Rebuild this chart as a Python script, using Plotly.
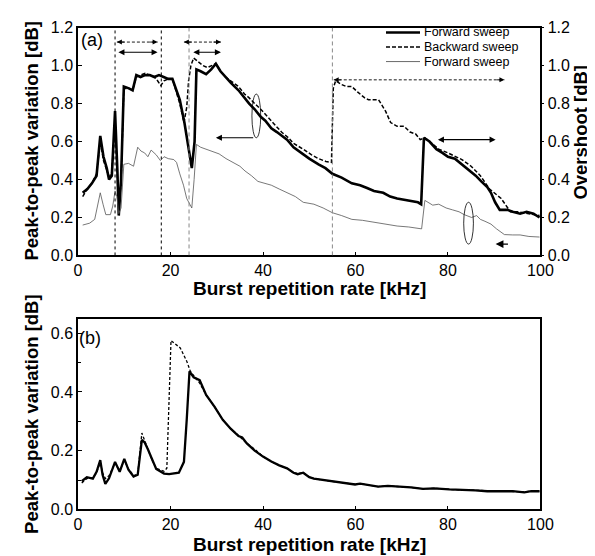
import plotly.graph_objects as go

# ---------------- data (a) ----------------
fwd_x = [1, 2, 3, 4, 4.8, 5.5, 6.2, 6.7, 7.3, 8.0, 8.5, 8.8, 9.3, 9.9, 11, 11.8, 12.6, 13.5, 14.5,
         15.5, 16.5, 17.5, 18.5, 19.5, 20.4, 21.2, 22, 23, 24, 24.6, 25.2, 25.6, 26.5, 27.7, 28.8,
         29.8, 30.8, 31.9, 33, 34.7, 36, 37, 38.2, 39.5, 40.5, 41.8, 43, 44, 45.2, 46.6, 48.7, 50,
         52, 53.5, 55, 57, 59.2, 61, 62.5, 64, 66, 67.5, 69, 71, 72.5, 73.5, 74.2, 74.8, 76, 76.8,
         77.5, 78.8, 80, 81.5, 83, 84.5, 86, 87.2, 88.5, 89.3, 90.2, 91.2, 92.9, 94, 95.6, 97, 98.5, 99.8]
fwd_y = [0.33, 0.35, 0.38, 0.42, 0.63, 0.52, 0.46, 0.40, 0.42, 0.76, 0.45, 0.21, 0.40, 0.89, 0.88,
         0.87, 0.95, 0.94, 0.95, 0.95, 0.94, 0.95, 0.94, 0.93, 0.93, 0.88, 0.82, 0.70, 0.55, 0.46,
         0.60, 0.98, 0.97, 0.955, 0.98, 1.01, 0.97, 0.94, 0.91, 0.87, 0.83, 0.80, 0.77, 0.73, 0.71,
         0.67, 0.65, 0.63, 0.61, 0.57, 0.53, 0.51, 0.48, 0.46, 0.43, 0.41, 0.38, 0.37, 0.355, 0.34,
         0.33, 0.31, 0.30, 0.29, 0.285, 0.28, 0.27, 0.62, 0.60, 0.58, 0.56, 0.54, 0.52, 0.51, 0.48,
         0.45, 0.42, 0.39, 0.36, 0.33, 0.28, 0.24, 0.24, 0.23, 0.22, 0.23, 0.22, 0.20]

bwd_x = [1, 2, 3, 4, 4.8, 5.5, 6.2, 6.7, 7.3, 8.0, 8.5, 8.8, 9.3, 9.9, 11, 11.8, 12.6, 13.5, 14.5,
         15.5, 16.5, 17.2, 17.9, 18.6, 19.5, 20.4, 21.2, 22, 22.9, 23.5, 23.9, 24.4, 25, 26, 27, 28,
         29.8, 30.8, 31.9, 33, 34.7, 36, 37, 38.2, 39.5, 41, 42.5, 44, 45.5, 46.6, 48.7, 50.5, 52,
         53.6, 54.8, 55.2, 55.7, 57, 58, 59.2, 60.5, 62, 62.8, 65, 66.5, 67.6, 69, 70.5, 71.8, 73,
         74, 75, 76, 78, 80, 83, 85, 87, 89, 90.5, 91.5, 92.5, 93.5, 95, 97, 99.8]
bwd_y = [0.31, 0.35, 0.38, 0.43, 0.60, 0.50, 0.45, 0.41, 0.44, 0.70, 0.42, 0.24, 0.38, 0.88, 0.88,
         0.87, 0.94, 0.95, 0.96, 0.95, 0.94, 0.92, 0.895, 0.92, 0.93, 0.93, 0.87, 0.80, 0.70, 0.78,
         0.92, 1.00, 1.04, 1.02, 1.00, 0.99, 1.01, 0.97, 0.94, 0.92, 0.89, 0.85, 0.83, 0.80, 0.77,
         0.73, 0.69, 0.65, 0.62, 0.59, 0.56, 0.53, 0.51, 0.495, 0.49, 0.88, 0.92, 0.90, 0.89, 0.89,
         0.86, 0.83, 0.82, 0.82, 0.76, 0.70, 0.68, 0.68, 0.65, 0.64, 0.61, 0.62, 0.60, 0.56, 0.54,
         0.505, 0.47, 0.42, 0.35, 0.32, 0.30, 0.265, 0.23, 0.23, 0.22, 0.21]

ovs_x = [1, 2.5, 3.6, 4.2, 4.8, 5.4, 6, 7, 7.5, 8, 8.4, 8.8, 9.3, 9.9, 10.9, 12, 12.9, 13.6, 14.4,
         15.1, 15.8, 16.9, 17.8, 18.6, 19.5, 20.7, 21.3, 22, 22.8, 23.5, 24.6, 25.1, 25.6, 26.5,
         27.7, 29, 30.5, 32, 33.4, 35, 36.1, 37.5, 38.9, 40.5, 41.8, 43.5, 45.2, 47, 48.7, 51, 53,
         55, 57, 59.2, 61.5, 64, 66.5, 69, 71.5, 73.7, 74.3, 75, 76.7, 78, 79.6, 81, 82.4, 83.5,
         85.1, 86.2, 87, 88, 89.3, 90.5, 92.2, 94, 95.6, 97.5, 99.8]
ovs_y = [0.16, 0.17, 0.19, 0.26, 0.33, 0.27, 0.215, 0.215, 0.26, 0.34, 0.31, 0.22, 0.25, 0.48,
         0.485, 0.47, 0.57, 0.55, 0.54, 0.52, 0.555, 0.53, 0.50, 0.52, 0.51, 0.505, 0.49, 0.43,
         0.37, 0.30, 0.25, 0.40, 0.585, 0.57, 0.56, 0.55, 0.535, 0.51, 0.49, 0.47, 0.445, 0.42,
         0.39, 0.38, 0.37, 0.35, 0.33, 0.31, 0.28, 0.27, 0.25, 0.225, 0.21, 0.19, 0.185, 0.175,
         0.165, 0.155, 0.15, 0.14, 0.14, 0.29, 0.265, 0.27, 0.25, 0.24, 0.23, 0.215, 0.20, 0.21,
         0.19, 0.18, 0.165, 0.14, 0.11, 0.108, 0.108, 0.10, 0.097]

# ---------------- data (b) ----------------
b_fwd_x = [0.8, 1.9, 3.2, 4, 4.8, 5.3, 5.9, 6.7, 8, 9, 10, 10.9, 12, 12.9, 13.8, 14.4, 15.1, 16,
           16.9, 18.6, 19.7, 21.8, 22.9, 23.5, 24.1, 25, 26.3, 27.7, 29.5, 31.3, 33, 34.7, 35.5,
           36.5, 38.2, 40, 41.8, 43.5, 45.2, 46.6, 47.5, 48.7, 50, 51, 53, 55, 57.5, 59.9, 61, 62,
           64.9, 67, 69.7, 72, 74.6, 77, 80.3, 83, 85.9, 88.5, 91.4, 94, 96.5, 98, 99.8]
b_fwd_y = [0.096, 0.11, 0.105, 0.128, 0.168, 0.118, 0.087, 0.106, 0.162, 0.128, 0.172, 0.135,
           0.112, 0.118, 0.237, 0.228, 0.205, 0.17, 0.138, 0.122, 0.12, 0.125, 0.162, 0.305, 0.47,
           0.45, 0.44, 0.39, 0.35, 0.305, 0.275, 0.25, 0.245, 0.225, 0.2, 0.18, 0.163, 0.15, 0.14,
           0.125, 0.12, 0.125, 0.11, 0.105, 0.1, 0.095, 0.09, 0.085, 0.088, 0.085, 0.078, 0.08,
           0.078, 0.075, 0.07, 0.072, 0.068, 0.067, 0.065, 0.062, 0.062, 0.062, 0.058, 0.062, 0.062]
b_bwd_x = [0.8, 1.9, 3.2, 4, 4.8, 5.3, 5.9, 6.7, 8, 9, 10, 10.9, 12, 12.9, 13.8, 14.4, 15.1, 16,
           16.9, 18.6, 19.2, 20.1, 22.1, 23.5, 24.3, 25, 26.3, 27.7, 29.5, 31.3, 33, 34.7, 35.5,
           36.5, 38.2, 40, 41.8, 43.5, 45.2, 46.6, 47.5, 48.7, 50, 51, 53, 55, 57.5, 59.9, 61, 62,
           64.9, 67, 69.7, 72, 74.6, 77, 80.3, 83, 85.9, 88.5, 91.4, 94, 96.5, 98, 99.8]
b_bwd_y = [0.09, 0.105, 0.108, 0.125, 0.16, 0.125, 0.105, 0.115, 0.158, 0.13, 0.168, 0.138,
           0.115, 0.12, 0.26, 0.235, 0.205, 0.168, 0.14, 0.13, 0.14, 0.575, 0.55, 0.505, 0.47,
           0.455, 0.43, 0.39, 0.35, 0.305, 0.275, 0.252, 0.24, 0.225, 0.205, 0.18, 0.163, 0.15,
           0.14, 0.125, 0.122, 0.125, 0.11, 0.105, 0.1, 0.095, 0.09, 0.086, 0.088, 0.085, 0.078,
           0.08, 0.078, 0.075, 0.07, 0.072, 0.068, 0.067, 0.065, 0.063, 0.062, 0.062, 0.06, 0.062, 0.062]

x_ticks = [0, 20, 40, 60, 80, 100]
y_ticks_a = [0.0, 0.2, 0.4, 0.6, 0.8, 1.0, 1.2]
y_ticks_b = [0.0, 0.2, 0.4, 0.6]
legend_names = ["Forward sweep", "Backward sweep", "Forward sweep"]
x_title = "Burst repetition rate [kHz]"
y_title = "Peak-to-peak variation [dB]"
y2_title = "Overshoot [dB]"

W, H = 595, 556
FONT = "Liberation Sans, Arial, sans-serif"


def px(xp):
    return xp / W


def py(yp):
    return 1 - yp / H


fig = go.Figure()
fig.add_trace(go.Scatter(x=fwd_x, y=fwd_y, mode="lines", name=legend_names[0],
                         line=dict(color="black", width=2.6), xaxis="x", yaxis="y"))
fig.add_trace(go.Scatter(x=bwd_x, y=bwd_y, mode="lines", name=legend_names[1],
                         line=dict(color="black", width=1.5, dash="4px,2px"), xaxis="x", yaxis="y"))
fig.add_trace(go.Scatter(x=ovs_x, y=ovs_y, mode="lines", name=legend_names[2],
                         line=dict(color="#555555", width=0.8), xaxis="x", yaxis="y2"))
fig.add_trace(go.Scatter(x=b_bwd_x, y=b_bwd_y, mode="lines", showlegend=False,
                         line=dict(color="black", width=1.3, dash="3px,2px"), xaxis="x2", yaxis="y3"))
fig.add_trace(go.Scatter(x=b_fwd_x, y=b_fwd_y, mode="lines", showlegend=False,
                         line=dict(color="black", width=2.3), xaxis="x2", yaxis="y3"))

xdom = [px(68), px(544)]
axis_common = dict(showline=True, linecolor="black", linewidth=1.5, mirror=True,
                   showgrid=False, zeroline=False, ticks="inside", ticklen=4,
                   tickcolor="black", tickfont=dict(family=FONT, size=16, color="black"))

fig.update_layout(
    width=W, height=H, margin=dict(l=0, r=0, t=0, b=0),
    paper_bgcolor="white", plot_bgcolor="white", showlegend=False,
    xaxis=dict(domain=xdom, range=[0, 100], tickvals=x_ticks, anchor="y", **axis_common),
    yaxis=dict(domain=[py(247), py(12)], range=[0, 1.2], tickvals=y_ticks_a,
               tickformat=".1f", anchor="x", **axis_common),
    yaxis2=dict(overlaying="y", side="right", range=[0, 1.2], tickvals=y_ticks_a,
                tickformat=".1f", anchor="x", showline=False, showgrid=False, zeroline=False,
                ticks="outside", ticklen=3, tickcolor="black",
                tickfont=dict(family=FONT, size=16, color="black")),
    xaxis2=dict(domain=xdom, range=[0, 100], tickvals=x_ticks, anchor="y3", **axis_common),
    yaxis3=dict(domain=[py(509), py(313)], range=[0, 0.647], tickvals=y_ticks_b,
                tickformat=".1f", anchor="x2",
                minor=dict(dtick=0.1, ticks="inside", ticklen=3, tickcolor="black"),
                **axis_common),
)

shapes = []
# vertical marker lines
for xv, col, dash in [(8, "black", "3px,3px"), (18, "black", "3px,3px"),
                      (24, "#888888", "4px,3px"), (55, "#888888", "4px,3px")]:
    shapes.append(dict(type="line", xref="x", yref="y", x0=xv, x1=xv, y0=0, y1=1.2,
                       line=dict(color=col, width=1, dash=dash)))
# ellipses
shapes.append(dict(type="circle", xref="x", yref="y", x0=37.6, x1=39.5, y0=0.62, y1=0.85,
                   line=dict(color="black", width=0.8)))
shapes.append(dict(type="circle", xref="x", yref="y", x0=83.4, x1=85.5, y0=0.06, y1=0.28,
                   line=dict(color="black", width=0.8)))
# dashed double arrows shafts
dashed_arrows = [(8.4, 17.2, 1.124), (22.9, 30.9, 1.124), (55.3, 92.2, 0.925)]
for x0, x1, yv in dashed_arrows:
    shapes.append(dict(type="line", xref="x", yref="y", x0=x0, x1=x1, y0=yv, y1=yv,
                       line=dict(color="black", width=0.9, dash="3px,2px")))

# manual legend samples
leg_rows = [17, 32, 47]
shapes.append(dict(type="line", xref="paper", yref="paper", x0=px(385), x1=px(420),
                   y0=py(leg_rows[0]), y1=py(leg_rows[0]), line=dict(color="black", width=2.6)))
shapes.append(dict(type="line", xref="paper", yref="paper", x0=px(385), x1=px(420),
                   y0=py(leg_rows[1]), y1=py(leg_rows[1]),
                   line=dict(color="black", width=1.5, dash="4px,2px")))
shapes.append(dict(type="line", xref="paper", yref="paper", x0=px(385), x1=px(420),
                   y0=py(leg_rows[2]), y1=py(leg_rows[2]), line=dict(color="#444444", width=0.8)))
fig.update_layout(shapes=shapes)

ann = []
# dashed double arrow heads
for x0, x1, yv in dashed_arrows:
    for xh, off in [(x0, 9), (x1, -9)]:
        ann.append(dict(x=xh, y=yv, xref="x", yref="y", ax=off, ay=0, text="", showarrow=True,
                        arrowhead=2, arrowsize=1.1, arrowwidth=0.9, arrowcolor="black"))
# solid double arrows
for x0, x1, yv in [(8.4, 17.2, 1.07), (24.6, 30.9, 1.07), (77.5, 90.3, 0.61)]:
    ann.append(dict(x=x1, y=yv, ax=x0, ay=yv, xref="x", yref="y", axref="x", ayref="y",
                    text="", showarrow=True, arrowhead=2, arrowside="end+start",
                    arrowsize=1.1, arrowwidth=1.1, arrowcolor="black"))
# single arrows from ellipses
ann.append(dict(x=29.8, y=0.62, ax=38.2, ay=0.62, xref="x", yref="y", axref="x", ayref="y",
                text="", showarrow=True, arrowhead=2, arrowsize=1.1, arrowwidth=1.1,
                arrowcolor="black"))
ann.append(dict(x=90.3, y=0.06, ax=93.3, ay=0.06, xref="x", yref="y", axref="x", ayref="y",
                text="", showarrow=True, arrowhead=2, arrowsize=1.2, arrowwidth=1.3,
                arrowcolor="black"))


def text_ann(xp, yp, text, font, angle=0, xanchor="center"):
    return dict(x=px(xp), y=py(yp), xref="paper", yref="paper", text=text, showarrow=False,
                xanchor=xanchor, yanchor="middle", textangle=angle, font=font)


panel_font = dict(family=FONT, size=18, color="black")
ann.append(text_ann(82, 25, "(a)", panel_font))
ann.append(text_ann(80, 332, "(b)", panel_font))
# legend texts
leg_font = dict(family=FONT, size=12.5, color="black")
for r, name in zip(leg_rows, legend_names):
    ann.append(text_ann(422, r, name, leg_font, xanchor="left"))
# axis titles
tfont = dict(family=FONT, size=19, color="black")
ann.append(text_ann(306, 281, "<b>%s</b>" % x_title, tfont))
ann.append(text_ann(306, 545, "<b>%s</b>" % x_title, tfont))
yfont = dict(family=FONT, size=18.5, color="black")
ann.append(text_ann(20, 128, "<b>%s</b>" % y_title, yfont, angle=-90))
ann.append(text_ann(20, 410, "<b>%s</b>" % y_title, yfont, angle=-90))
ann.append(text_ann(585, 120, "<b>%s</b>" % y2_title, yfont, angle=-90))
fig.update_layout(annotations=ann)

fig.write_html("out.html")
